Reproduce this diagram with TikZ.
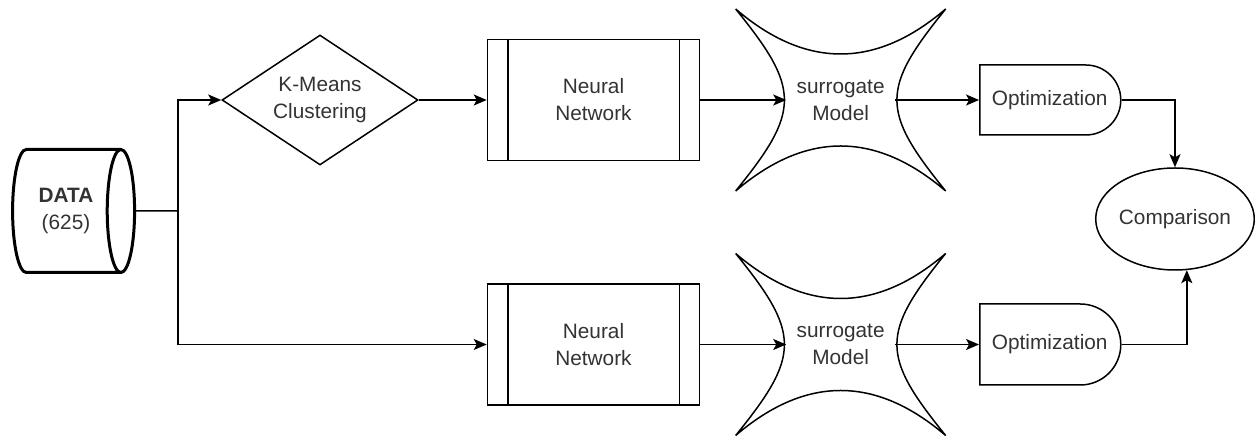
\documentclass[tikz,border=0pt]{standalone}
\usepackage{fontspec}
\setmainfont{Liberation Sans}
\usetikzlibrary{shapes.geometric,shapes.misc,arrows.meta,positioning,calc}
\definecolor{txtgray}{HTML}{333333}

\begin{document}
\begin{tikzpicture}[
    x=0.5pt, y=-0.5pt,
    font=\fontsize{10.4}{13.5}\selectfont,
    base/.style={draw, line width=0.75pt, text=txtgray, align=center, inner sep=0pt},
    process/.style={base, rectangle, minimum width=106pt, minimum height=60.5pt},
    decision/.style={base, diamond, aspect=1.5, minimum width=98pt, minimum height=65pt},
    store/.style={base, cylinder, aspect=0.6, line width=1.5pt, minimum width=61.5pt, minimum height=61pt},
    delay/.style={base, rounded rectangle, rounded rectangle west arc=none, minimum width=70.5pt},
    waist/.style={align=center, text=txtgray, inner sep=0pt, minimum width=54pt, minimum height=46.5pt},
    arrow/.style={-{Stealth[length=6.5pt, width=5.5pt, inset=1.5pt]}, line width=0.75pt}
]
\useasboundingbox (0,0) rectangle (1255,437);

\node[store] (data) at (66,211) {\textbf{DATA}\\(625)};
\node[decision] (kmeans) at (320,100) {K-Means\\Clustering};
\node[process, right=34pt of kmeans] (nn1) {Neural\\Network};
\node[waist, right=43pt of nn1] (sm1) {surrogate\\Model};
\node[delay, minimum height=35pt, right=42pt of sm1] (opt1) {Optimization};

\node[process, below=61pt of nn1] (nn2) {Neural\\Network};
\node[waist, right=43pt of nn2] (sm2) {surrogate\\Model};
\node[delay, minimum height=40.5pt, right=42pt of sm2] (opt2) {Optimization};

\node[base, ellipse, minimum width=77.5pt, minimum height=51pt] (cmp) at (1175,219) {Comparison};

% double side bars of the process boxes
\foreach \n in {nn1,nn2} {
  \draw[line width=0.75pt] ([xshift=10.5pt]\n.north west) -- ([xshift=10.5pt]\n.south west);
  \draw[line width=0.75pt] ([xshift=-10.5pt]\n.north east) -- ([xshift=-10.5pt]\n.south east);
}

% concave star round the surrogate models
\foreach \s in {sm1,sm2} {
  \draw[line width=0.75pt]
    ($(\s.center)+(-105,-91)$) .. controls ($(\s.center)+(-35,-31)$) and ($(\s.center)+(35,-31)$) .. ($(\s.center)+(105,-91)$)
    .. controls ($(\s.center)+(40,-11)$) and ($(\s.center)+(40,11)$) .. ($(\s.center)+(105,91)$)
    .. controls ($(\s.center)+(35,31)$) and ($(\s.center)+(-35,31)$) .. ($(\s.center)+(-105,91)$)
    .. controls ($(\s.center)+(-40,11)$) and ($(\s.center)+(-40,-11)$) .. cycle;
}

\coordinate (split) at (178,211);
\draw[line width=0.75pt] (data.east) -- (split);
\draw[arrow] (split) |- (kmeans.west);
\draw[arrow] (split) |- (nn2.west);

\draw[arrow] (kmeans.east) -- (nn1.west);
\draw[arrow] (nn1.east) -- (sm1.west);
\draw[arrow] (sm1.east) -- (opt1.west);
\draw[arrow] (nn2.east) -- (sm2.west);
\draw[arrow] (sm2.east) -- (opt2.west);

\draw[arrow] (opt1.east) -| (cmp.north);
\draw[arrow] (opt2.east) -| (cmp.-77);
\end{tikzpicture}
\end{document}
